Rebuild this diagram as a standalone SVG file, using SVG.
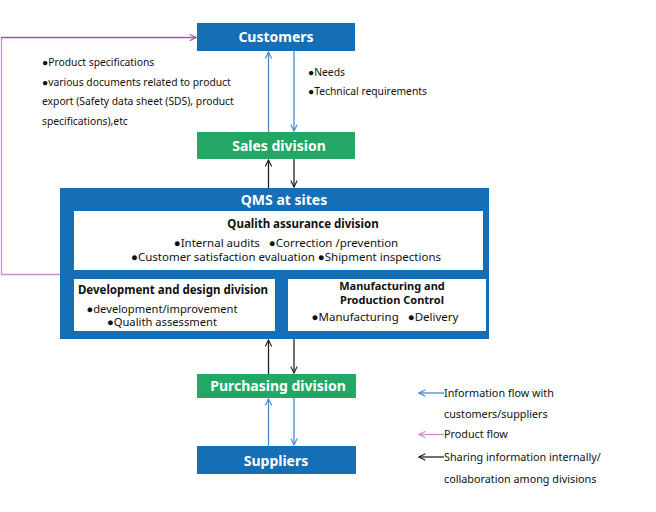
<svg xmlns="http://www.w3.org/2000/svg" width="656" height="512" viewBox="0 0 656 512">
<style>
text{font-family:"Noto Sans","Open Sans","Liberation Sans",sans-serif;fill:#111}
.hd{font-weight:bold;fill:#fff;font-size:14px;text-anchor:middle}
.blue{fill:#156fb7}
.green{fill:#23a764}
.wb{fill:#fff}
.t{font-size:10.3px}
.tl{font-size:10.8px}
.tb{font-size:11.5px;font-weight:bold;text-anchor:middle}
.tb2{font-size:11px;font-weight:bold;text-anchor:middle}
.tc{font-size:11.5px;text-anchor:middle}
.tc2{font-size:11.2px;text-anchor:middle}
.ib{stroke:#4d87cf;stroke-width:1.3;fill:none}
.ik{stroke:#222;stroke-width:1.3;fill:none}
.ip{stroke:#a455a4;stroke-width:1.3;fill:none}
</style>
<defs>
<marker id="ab" viewBox="0 0 10 10" refX="9" refY="5" markerWidth="8" markerHeight="8" orient="auto-start-reverse" markerUnits="userSpaceOnUse"><path d="M1,1 L9,5 L1,9" fill="none" stroke="#4d87cf" stroke-width="1.4"/></marker>
<marker id="ak" viewBox="0 0 10 10" refX="9" refY="5" markerWidth="8" markerHeight="8" orient="auto-start-reverse" markerUnits="userSpaceOnUse"><path d="M1,1 L9,5 L1,9" fill="none" stroke="#222" stroke-width="1.4"/></marker>
<marker id="ap" viewBox="0 0 10 10" refX="9" refY="5" markerWidth="8" markerHeight="8" orient="auto-start-reverse" markerUnits="userSpaceOnUse"><path d="M1,1 L9,5 L1,9" fill="none" stroke="#a455a4" stroke-width="1.4"/></marker>
<marker id="alp" viewBox="0 0 10 10" refX="9" refY="5" markerWidth="8" markerHeight="8" orient="auto-start-reverse" markerUnits="userSpaceOnUse"><path d="M1,1 L9,5 L1,9" fill="none" stroke="#d08ccd" stroke-width="1.4"/></marker>
</defs>

<g id="customers">
<rect class="blue" x="197" y="23" width="158" height="28"/>
<text class="hd" x="276" y="42">Customers</text>
</g>
<g id="sales">
<rect class="green" x="197" y="132" width="158" height="27"/>
<text class="hd" x="279" y="151">Sales division</text>
</g>
<g id="qms">
<rect class="blue" x="60" y="188" width="429" height="151"/>
<text class="hd" x="284" y="205">QMS at sites</text>
</g>
<g id="qa">
<rect class="wb" x="74" y="211" width="409" height="59"/>
<text class="tb" x="303" y="228">Qualith assurance division</text>
<text class="tc" x="286" y="247" xml:space="preserve">●Internal audits   ●Correction /prevention</text>
<text class="tc" x="286" y="261">●Customer satisfaction evaluation ●Shipment inspections</text>
</g>
<g id="dev">
<rect class="wb" x="74" y="279" width="201" height="52"/>
<text class="tb" x="173" y="294">Development and design division</text>
<text class="tc2" x="162" y="312.5">●development/improvement</text>
<text class="tc2" x="162" y="326">●Qualith assessment</text>
</g>
<g id="mfg">
<rect class="wb" x="288" y="279" width="198" height="52"/>
<text class="tb2" x="392" y="290">Manufacturing and</text>
<text class="tb2" x="392" y="303.5">Production Control</text>
<text class="tc" x="385" y="321" xml:space="preserve">●Manufacturing   ●Delivery</text>
</g>
<g id="purchasing">
<rect class="green" x="197" y="374" width="159" height="24"/>
<text class="hd" x="278" y="391">Purchasing division</text>
</g>
<g id="suppliers">
<rect class="blue" x="197" y="446" width="159" height="28"/>
<text class="hd" x="276" y="466">Suppliers</text>
</g>

<g id="connectors">
<line class="ib" x1="268.5" y1="132" x2="268.5" y2="52" marker-end="url(#ab)"/>
<line class="ib" x1="294" y1="51" x2="294" y2="131" marker-end="url(#ab)"/>
<line class="ik" x1="268.5" y1="188" x2="268.5" y2="160" marker-end="url(#ak)"/>
<line class="ik" x1="294" y1="159" x2="294" y2="187" marker-end="url(#ak)"/>
<line class="ik" x1="268.5" y1="374" x2="268.5" y2="340" marker-end="url(#ak)"/>
<line class="ik" x1="294" y1="339" x2="294" y2="373" marker-end="url(#ak)"/>
<line class="ib" x1="268.5" y1="446" x2="268.5" y2="399" marker-end="url(#ab)"/>
<line class="ib" x1="294" y1="398" x2="294" y2="445" marker-end="url(#ab)"/>
<polyline points="60,274.5 1.5,274.5 1.5,37.5" fill="none" stroke="#d08ccd" stroke-width="1.3"/>
<line class="ip" x1="1" y1="37.5" x2="196" y2="37.5" marker-end="url(#ap)"/>
</g>

<g id="labels">
<text class="t" x="42" y="66">●Product specifications</text>
<text class="t" x="42" y="86">●various documents related to product</text>
<text class="t" x="42" y="105">export (Safety data sheet (SDS), product</text>
<text class="t" x="42" y="125">specifications),etc</text>
<text class="t" x="308" y="76">●Needs</text>
<text class="t" x="308" y="95">●Technical requirements</text>
</g>

<g id="legend">
<line class="ib" x1="444" y1="393" x2="419" y2="393" marker-end="url(#ab)"/>
<text class="tl" x="444" y="397">Information flow with</text>
<text class="tl" x="444" y="418">customers/suppliers</text>
<line x1="444" y1="434.5" x2="419" y2="434.5" stroke="#d08ccd" stroke-width="1.3" marker-end="url(#alp)"/>
<text class="tl" x="444" y="438">Product flow</text>
<line class="ik" x1="444" y1="457" x2="419" y2="457" marker-end="url(#ak)"/>
<text class="tl" x="444" y="461">Sharing information internally/</text>
<text class="tl" x="444" y="483">collaboration among divisions</text>
</g>
</svg>
